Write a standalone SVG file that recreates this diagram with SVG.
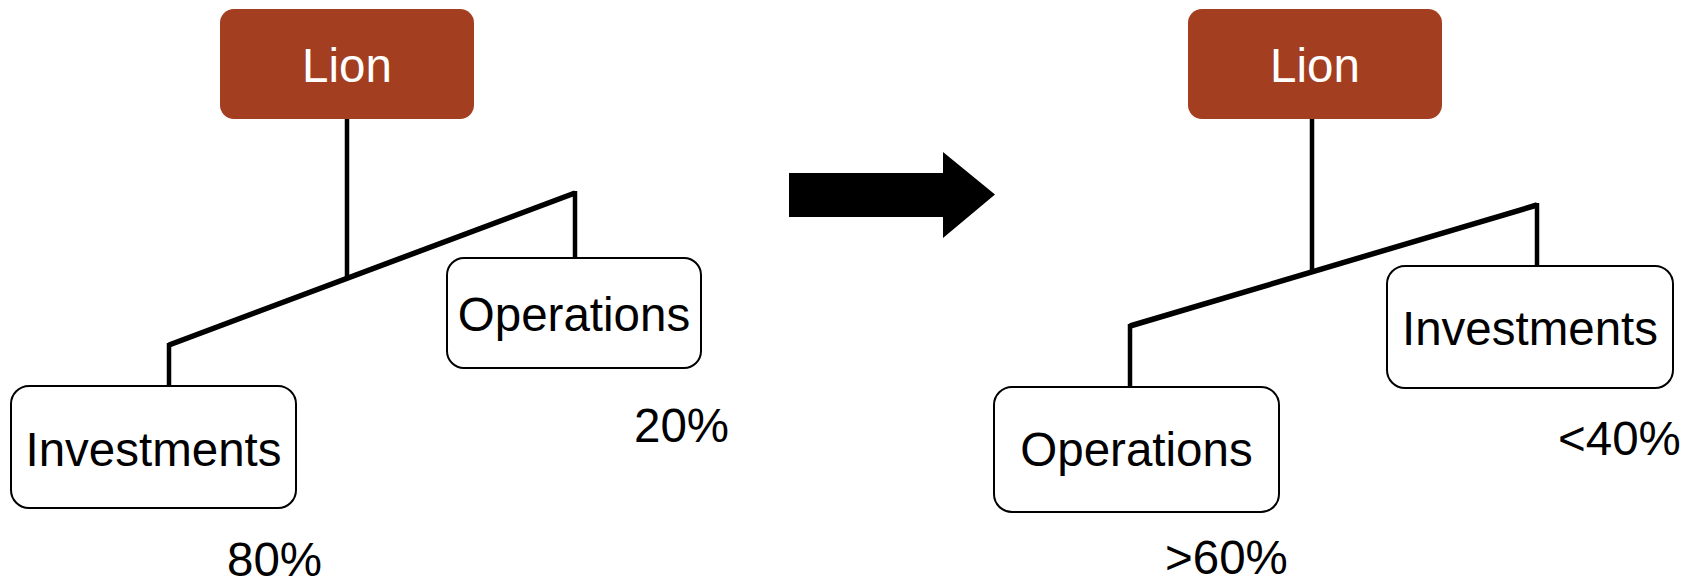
<svg xmlns="http://www.w3.org/2000/svg" width="1694" height="586" viewBox="0 0 1694 586">
  <style>
    .root { fill: #A33E20; }
    .box { fill: #FFFFFF; stroke: #000000; stroke-width: 2; }
    .t { font-family: "Liberation Sans", Arial, sans-serif; font-size: 47.5px; fill: #000000; text-anchor: middle; }
    .tw { font-family: "Liberation Sans", Arial, sans-serif; font-size: 47.5px; fill: #FFFFFF; text-anchor: middle; }
    .pct { font-family: "Liberation Sans", Arial, sans-serif; font-size: 47.5px; fill: #000000; }
    .v { stroke: #000000; stroke-width: 4.5; fill: none; }
    .d { stroke: #000000; stroke-width: 5.5; fill: none; stroke-linecap: butt; }
  </style>
  <rect width="1694" height="586" fill="#FFFFFF"/>

  <g id="connectors">
    <!-- left tree -->
    <line class="v" x1="347" y1="119" x2="347" y2="277"/>
    <line class="d" x1="169" y1="345" x2="575" y2="193"/>
    <line class="v" x1="169" y1="343" x2="169" y2="386"/>
    <line class="v" x1="575" y1="191" x2="575" y2="258"/>
    <!-- right tree -->
    <line class="v" x1="1312" y1="119" x2="1312" y2="271"/>
    <line class="d" x1="1130" y1="326" x2="1537" y2="205"/>
    <line class="v" x1="1130" y1="324" x2="1130" y2="387"/>
    <line class="v" x1="1537" y1="203" x2="1537" y2="266"/>
  </g>

  <g id="arrow">
    <polygon points="789,173 943,173 943,152 995,194.5 943,238 943,217 789,217" fill="#000000"/>
  </g>

  <g id="lion-left">
    <rect class="root" x="220" y="9" width="254" height="110" rx="14" ry="14"/>
    <text class="tw" x="347" y="82">Lion</text>
  </g>
  <g id="operations-left">
    <rect class="box" x="447" y="258" width="254" height="110" rx="17" ry="17"/>
    <text class="t" x="574" y="331">Operations</text>
  </g>
  <g id="investments-left">
    <rect class="box" x="11" y="386" width="285" height="122" rx="18" ry="18"/>
    <text class="t" x="153.5" y="466">Investments</text>
  </g>
  <text class="pct" x="634" y="442">20%</text>
  <text class="pct" x="227" y="576">80%</text>

  <g id="lion-right">
    <rect class="root" x="1188" y="9" width="254" height="110" rx="14" ry="14"/>
    <text class="tw" x="1315" y="82">Lion</text>
  </g>
  <g id="investments-right">
    <rect class="box" x="1387" y="266" width="286" height="122" rx="18" ry="18"/>
    <text class="t" x="1530" y="345">Investments</text>
  </g>
  <g id="operations-right">
    <rect class="box" x="994" y="387" width="285" height="125" rx="18" ry="18"/>
    <text class="t" x="1136.5" y="466">Operations</text>
  </g>
  <text class="pct" x="1558" y="455">&lt;40%</text>
  <text class="pct" x="1165" y="574">&gt;60%</text>
</svg>
